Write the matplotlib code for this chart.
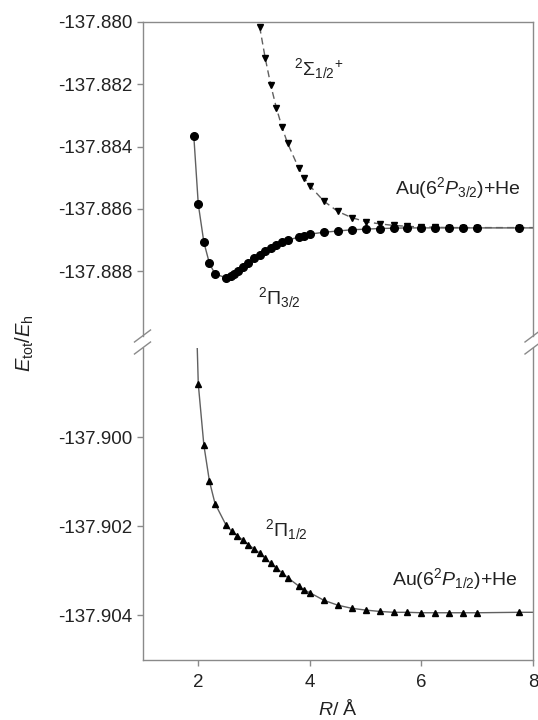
import matplotlib
matplotlib.use("Agg")
import matplotlib.pyplot as plt
from matplotlib.lines import Line2D

plt.rcParams["font.family"] = ["Liberation Sans", "DejaVu Sans"]
plt.rcParams["mathtext.fontset"] = "custom"
plt.rcParams["mathtext.rm"] = "Liberation Sans"
plt.rcParams["mathtext.it"] = "Liberation Sans:italic"
plt.rcParams["mathtext.bf"] = "Liberation Sans:bold"

# 2Pi_3/2 state (circles, solid line)
pi32_R = [1.92, 2.0, 2.1, 2.2, 2.3, 2.5, 2.58, 2.64, 2.71, 2.8, 2.9, 3.0, 3.1, 3.2, 3.3,
          3.4, 3.5, 3.6, 3.8, 3.9, 4.0, 4.25, 4.5, 4.75, 5.0, 5.25, 5.5, 5.75, 6.0, 6.25,
          6.5, 6.75, 7.0, 7.75]
pi32_E = [-137.88367, -137.88585, -137.88707, -137.88775, -137.88809, -137.88821, -137.88816,
          -137.88810, -137.88799, -137.88786, -137.88773, -137.88759, -137.88748, -137.88736,
          -137.88725, -137.88716, -137.88707, -137.88701, -137.88690, -137.88686, -137.88681,
          -137.88675, -137.88671, -137.88667, -137.88665, -137.88663, -137.88662, -137.88661,
          -137.88661, -137.88661, -137.88661, -137.88661, -137.88661, -137.88661]

# 2Sigma_1/2+ state (down triangles, dashed line)
sigma_R = [3.1, 3.2, 3.3, 3.4, 3.5, 3.6, 3.8, 3.9, 4.0, 4.25, 4.5, 4.75, 5.0, 5.25, 5.5,
           5.75, 6.0, 6.25, 6.5, 6.75, 7.0, 7.75]
sigma_E = [-137.88015, -137.88116, -137.88203, -137.88276, -137.88337, -137.88389, -137.88469,
           -137.88501, -137.88526, -137.88575, -137.88608, -137.88628, -137.88641, -137.88648,
           -137.88653, -137.88656, -137.88658, -137.88659, -137.88660, -137.88660, -137.88660,
           -137.88660]

# 2Pi_1/2 state (up triangles, solid line)
pi12_R = [2.0, 2.1, 2.2, 2.3, 2.5, 2.6, 2.7, 2.8, 2.9, 3.0, 3.1, 3.2, 3.3, 3.4, 3.5, 3.6,
          3.8, 3.9, 4.0, 4.25, 4.5, 4.75, 5.0, 5.25, 5.5, 5.75, 6.0, 6.25, 6.5, 6.75, 7.0, 7.75]
pi12_E = [-137.89881, -137.90018, -137.90099, -137.90149, -137.90198, -137.90211, -137.90221,
          -137.90231, -137.90241, -137.90251, -137.90260, -137.90272, -137.90283, -137.90294,
          -137.90304, -137.90315, -137.90334, -137.90343, -137.90349, -137.90366, -137.90377,
          -137.90384, -137.90388, -137.90391, -137.90393, -137.90393, -137.90394, -137.90394,
          -137.90394, -137.90394, -137.90394, -137.90393]

# fitted curves run a bit past the computed points
pi12_head = ([1.97], [-137.8975])
curve_end_R = 8.0

x_ticks = [2, 4, 6, 8]
top_ticks = [-137.880, -137.882, -137.884, -137.886, -137.888]
bot_ticks = [-137.900, -137.902, -137.904]

W, H = 538, 720
fig = plt.figure(figsize=(W / 100, H / 100), dpi=100)

left = 142.5 / W
width = (533 - 142.5) / W
ax_top = fig.add_axes([left, (H - 336) / H, width, (336 - 22) / H])
ax_bot = fig.add_axes([left, (H - 660) / H, width, (660 - 348) / H])

spine_col = "#8a8a8a"
line_col = "#606060"
txt_col = "#222222"

for ax in (ax_top, ax_bot):
    ax.set_xlim(1, 8)
    for s in ax.spines.values():
        s.set_color(spine_col)
        s.set_linewidth(1.0)
    ax.tick_params(direction="out", length=4, width=1, color=spine_col,
                   labelsize=13.5, labelcolor=txt_col, right=False, top=False)

ax_top.spines["bottom"].set_visible(False)
ax_bot.spines["top"].set_visible(False)
ax_top.tick_params(bottom=False, labelbottom=False)

ax_top.set_ylim(-137.89008, -137.880)
ax_bot.set_ylim(-137.905, -137.8980)
ax_top.set_yticks(top_ticks)
ax_top.set_yticklabels([f"{v:.3f}" for v in top_ticks])
ax_bot.set_yticks(bot_ticks)
ax_bot.set_yticklabels([f"{v:.3f}" for v in bot_ticks])
ax_bot.set_xticks(x_ticks)
ax_bot.tick_params(axis="x", pad=6)

# curves
ax_top.plot(pi32_R + [curve_end_R], pi32_E + [pi32_E[-1]], color=line_col, lw=1.0, zorder=2)
ax_top.plot(sigma_R + [curve_end_R], sigma_E + [sigma_E[-1]], color=line_col, lw=1.0,
            ls=(0, (5, 3)), zorder=2)
ax_bot.plot(pi12_head[0] + pi12_R + [curve_end_R], pi12_head[1] + pi12_E + [pi12_E[-1]],
            color=line_col, lw=1.0, zorder=2)

# points
ax_top.plot(sigma_R, sigma_E, ls="none", marker="v", ms=5, color="black", zorder=3, clip_on=False)
ax_top.plot(pi32_R, pi32_E, ls="none", marker="o", ms=5.5, color="black", zorder=4, clip_on=False)
ax_bot.plot(pi12_R, pi12_E, ls="none", marker="^", ms=5, color="black", zorder=3, clip_on=False)

# state labels
fs = 14
ax_top.text(4.16, -137.88148, r"$^{2}\Sigma_{\mathit{1/2}}{}^{+}$", fontsize=fs,
            ha="center", va="center", color=txt_col)
ax_top.text(7.78, -137.88533, r"Au(6$^{2}$$\mathit{P}_{\mathit{3/2}}$)+He", fontsize=fs,
            ha="right", va="center", color=txt_col)
ax_top.text(3.45, -137.88886, r"$^{2}\Pi_{\mathit{3/2}}$", fontsize=fs,
            ha="center", va="center", color=txt_col)
ax_bot.text(3.58, -137.90208, r"$^{2}\Pi_{\mathit{1/2}}$", fontsize=fs,
            ha="center", va="center", color=txt_col)
ax_bot.text(7.73, -137.90319, r"Au(6$^{2}$$\mathit{P}_{\mathit{1/2}}$)+He", fontsize=fs,
            ha="right", va="center", color=txt_col)

# axis labels
fig.text(337.5 / W, 1 - 709 / H, r"$\mathit{R}$/ Å", fontsize=fs, ha="center", va="center",
         color=txt_col)
fig.text(25 / W, 1 - 343 / H, r"$\mathit{E}_{\mathrm{tot}}/\mathit{E}_{\mathrm{h}}$", fontsize=14.5,
         rotation=90, ha="center", va="center", color=txt_col)

# axis break marks on both side spines
for xs in (142.5, 533):
    for yb in (336, 348):
        fig.add_artist(Line2D([(xs - 8) / W, (xs + 8) / W],
                              [1 - (yb + 6) / H, 1 - (yb - 6) / H],
                              transform=fig.transFigure, color=spine_col, lw=1.0))

fig.savefig("out.png", dpi=100)
